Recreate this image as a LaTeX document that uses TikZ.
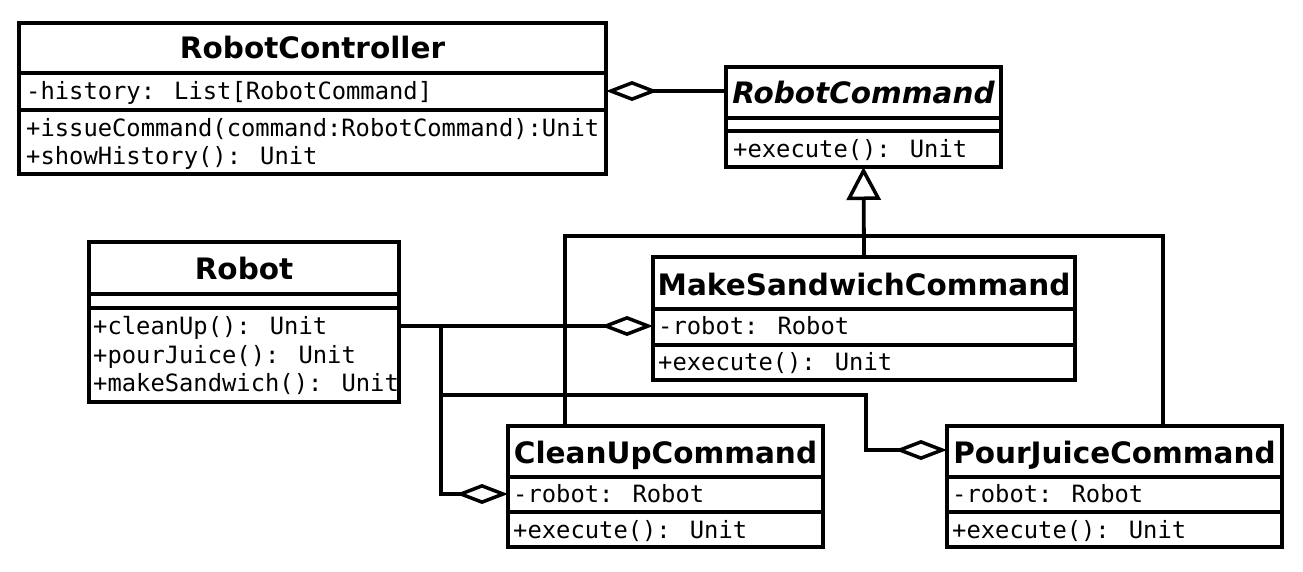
\documentclass[tikz,border=0pt]{standalone}
\usepackage{fontspec}
\setmainfont{DejaVu Sans}
\newfontfamily\memfam{DejaVu Sans Mono}
\usetikzlibrary{arrows.meta}
\newcommand\memfont{\memfam\fontsize{23.8pt}{28pt}\selectfont}
\newcommand\ttlfont{\fontsize{29.5pt}{35pt}\selectfont\bfseries}
\tikzset{
  box/.style={draw, line width=3.8pt, inner sep=0pt, outer sep=0pt, anchor=north west},
  mem/.style={anchor=base west, inner sep=0pt, font=\memfont},
  ttl/.style={anchor=base, inner sep=0pt, font=\ttlfont},
  conn/.style={line width=3.8pt},
  agg/.style={conn, -{Diamond[open, length=52pt, width=20pt, line width=3.5pt]}},
  gen/.style={conn, -{Triangle[open, length=33pt, width=34pt, line width=3.5pt]}},
}
\begin{document}
\begin{tikzpicture}[x=1pt,y=-1pt]
\useasboundingbox (0,0) rectangle (1303,571);
% RobotController
\node[box, minimum width=587pt, minimum height=151pt] (rc) at (19,23) {};
\draw[conn] (rc.west |- 0,73) -- (rc.east |- 0,73);
\draw[conn] (rc.west |- 0,110) -- (rc.east |- 0,110);
\node[ttl] (rcT) at (312.5,58) {RobotController};
\node[mem] (rcA) at (26,99) {-history: List[RobotCommand]};
\node[mem] (rcM1) at (26,136) {+issueCommand(command:RobotCommand):Unit};
\node[mem] (rcM2) at (26,164) {+showHistory(): Unit};
% RobotCommand
\node[box, minimum width=275pt, minimum height=100pt] (rcmd) at (726,67) {};
\draw[conn] (rcmd.west |- 0,118) -- (rcmd.east |- 0,118);
\draw[conn] (rcmd.west |- 0,131) -- (rcmd.east |- 0,131);
\node[ttl, font=\ttlfont\itshape] (rcmdT) at (863.5,103) {RobotCommand};
\node[mem] (rcmdM) at (733,157) {+execute(): Unit};
% Robot
\node[box, minimum width=310pt, minimum height=160pt] (robot) at (89,242) {};
\draw[conn] (robot.west |- 0,294) -- (robot.east |- 0,294);
\draw[conn] (robot.west |- 0,308) -- (robot.east |- 0,308);
\node[ttl] (robotT) at (244,279) {Robot};
\node[mem] (robotM1) at (93,334) {+cleanUp(): Unit};
\node[mem] (robotM2) at (93,363) {+pourJuice(): Unit};
\node[mem] (robotM3) at (93,391) {+makeSandwich(): Unit};
% MakeSandwichCommand
\node[box, minimum width=422pt, minimum height=123pt] (ms) at (653,257) {};
\draw[conn] (ms.west |- 0,309) -- (ms.east |- 0,309);
\draw[conn] (ms.west |- 0,345) -- (ms.east |- 0,345);
\node[ttl] (msT) at (864,295) {MakeSandwichCommand};
\node[mem] (msA) at (658,334) {-robot: Robot};
\node[mem] (msM) at (658,370) {+execute(): Unit};
% CleanUpCommand
\node[box, minimum width=315pt, minimum height=121pt] (cu) at (508,426) {};
\draw[conn] (cu.west |- 0,477) -- (cu.east |- 0,477);
\draw[conn] (cu.west |- 0,512) -- (cu.east |- 0,512);
\node[ttl] (cuT) at (665.5,463) {CleanUpCommand};
\node[mem] (cuA) at (513,502) {-robot: Robot};
\node[mem] (cuM) at (513,538) {+execute(): Unit};
% PourJuiceCommand
\node[box, minimum width=335pt, minimum height=121pt] (pj) at (947,426) {};
\draw[conn] (pj.west |- 0,477) -- (pj.east |- 0,477);
\draw[conn] (pj.west |- 0,512) -- (pj.east |- 0,512);
\node[ttl] (pjT) at (1114.5,463) {PourJuiceCommand};
\node[mem] (pjA) at (952,502) {-robot: Robot};
\node[mem] (pjM) at (952,538) {+execute(): Unit};
% connectors
\coordinate (hrow) at (0,91);
\draw[agg] (rcmd.west |- hrow) -- (rc.east |- hrow);
\draw[gen] (ms.north) -- (rcmd.south);
\coordinate (bar) at (0,236);
\coordinate (cuTop) at ([xshift=57pt]cu.north west);
\coordinate (pjTop) at ([xshift=216pt]pj.north west);
\draw[conn] (cuTop) |- (bar -| pjTop) -- (pjTop);
\coordinate (row) at (0,326);
\coordinate (br) at (441,326);
\coordinate (cuRow) at (0,494);
\coordinate (pjRow) at (0,450);
\coordinate (bend) at (866,395);
\draw[agg] (robot.east |- row) -- (ms.west |- row);
\draw[agg] (br) |- (cu.west |- cuRow);
\draw[agg] (br |- bend) -| (bend |- pjRow) -- (pj.west |- pjRow);
\end{tikzpicture}
\end{document}
